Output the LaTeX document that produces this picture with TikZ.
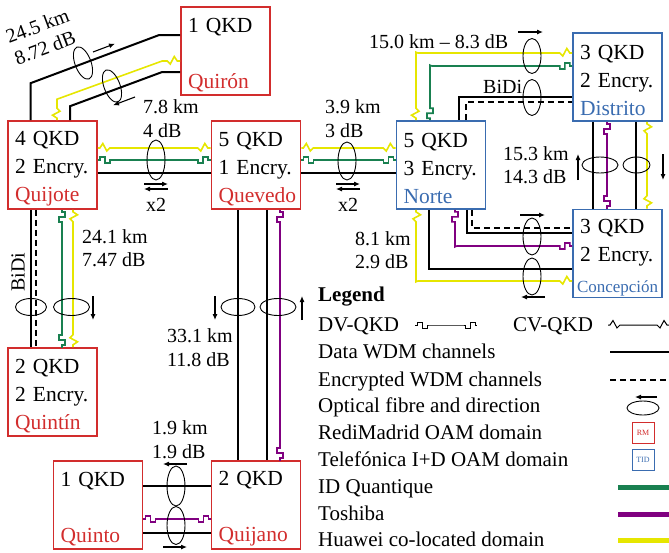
\documentclass[tikz,border=0pt]{standalone}
\usepackage{fontspec}
\setmainfont{Liberation Serif}
\usepackage{xcolor}
\usepackage{tikz}
\usetikzlibrary{calc}
\usetikzlibrary{arrows.meta}
\usetikzlibrary{decorations}

\definecolor{rmred}{RGB}{210,45,45}
\definecolor{tidblue}{RGB}{58,108,176}
\definecolor{idqgreen}{RGB}{25,128,80}
\definecolor{toshpurple}{RGB}{128,0,128}
\definecolor{hwyellow}{RGB}{230,230,0}

% wiggle (CV) and pulse (DV) at both ends of a link
\pgfdeclaredecoration{cvends}{cvstart}{%
	\state{cvstart}[width=14pt,next state=cvrun]{%
		\pgfpathlineto{\pgfpoint{2pt}{0pt}}%
		\pgfpathlineto{\pgfpoint{5pt}{4.5pt}}%
		\pgfpathlineto{\pgfpoint{9pt}{-3pt}}%
		\pgfpathlineto{\pgfpoint{12pt}{0pt}}%
		\pgfpathlineto{\pgfpoint{14pt}{0pt}}%
	}%
	\state{cvrun}[width=1pt,switch if less than=15pt to cvend]{%
		\pgfpathlineto{\pgfpoint{1pt}{0pt}}%
	}%
	\state{cvend}[width=14pt,next state=final]{%
		\pgfpathlineto{\pgfpoint{2pt}{0pt}}%
		\pgfpathlineto{\pgfpoint{5pt}{-3pt}}%
		\pgfpathlineto{\pgfpoint{9pt}{4.5pt}}%
		\pgfpathlineto{\pgfpoint{12pt}{0pt}}%
		\pgfpathlineto{\pgfpoint{14pt}{0pt}}%
	}%
	\state{final}{%
		\pgfpathlineto{\pgfpointdecoratedpathlast}%
	}%
}
\pgfdeclaredecoration{dvends}{dvstart}{%
	\state{dvstart}[width=14pt,next state=dvrun]{%
		\pgfpathlineto{\pgfpoint{2pt}{0pt}}%
		\pgfpathlineto{\pgfpoint{2pt}{3pt}}%
		\pgfpathlineto{\pgfpoint{7pt}{3pt}}%
		\pgfpathlineto{\pgfpoint{7pt}{-3pt}}%
		\pgfpathlineto{\pgfpoint{12pt}{-3pt}}%
		\pgfpathlineto{\pgfpoint{12pt}{0pt}}%
		\pgfpathlineto{\pgfpoint{14pt}{0pt}}%
	}%
	\state{dvrun}[width=1pt,switch if less than=15pt to dvend]{%
		\pgfpathlineto{\pgfpoint{1pt}{0pt}}%
	}%
	\state{dvend}[width=14pt,next state=final]{%
		\pgfpathlineto{\pgfpoint{2pt}{0pt}}%
		\pgfpathlineto{\pgfpoint{2pt}{-3pt}}%
		\pgfpathlineto{\pgfpoint{7pt}{-3pt}}%
		\pgfpathlineto{\pgfpoint{7pt}{3pt}}%
		\pgfpathlineto{\pgfpoint{12pt}{3pt}}%
		\pgfpathlineto{\pgfpoint{12pt}{0pt}}%
		\pgfpathlineto{\pgfpoint{14pt}{0pt}}%
	}%
	\state{final}{%
		\pgfpathlineto{\pgfpointdecoratedpathlast}%
	}%
}

\tikzset{
	qkdbox/.style={draw,line width=1.6pt,minimum width=89pt,minimum height=88pt,inner sep=0pt,
		text width=75pt,align=left,font=\fontsize{21.5}{28}\selectfont,
		execute at begin node={\rule{0pt}{22pt}}},
	rmbox/.style={qkdbox,draw=rmred},
	tidbox/.style={qkdbox,draw=tidblue},
	minibox/.style={draw,line width=0.8pt,minimum width=22pt,minimum height=21pt,inner sep=0pt,
		font=\fontsize{8}{9}\selectfont},
	lbl/.style={inner sep=0pt,align=left,font=\fontsize{20}{23.5}\selectfont},
	legtxt/.style={anchor=west,inner sep=0pt,font=\fontsize{21}{25}\selectfont,text height=14pt,text depth=4pt},
	wdm/.style={line width=2pt},
	encwdm/.style={line width=1.4pt,dash pattern=on 6pt off 4pt},
	cvq/.style={draw=hwyellow,line width=1.6pt,decorate,decoration=cvends},
	dvidq/.style={draw=idqgreen,line width=1.6pt,decorate,decoration=dvends},
	dvtosh/.style={draw=toshpurple,line width=1.6pt,decorate,decoration=dvends},
	fibre/.style={draw,line width=0.9pt},
	fibdir/.style={-{Latex[length=6pt,width=5pt]},line width=1.1pt},
}

\begin{document}
\begin{tikzpicture}[x=1pt,y=-1pt]
		\useasboundingbox (0,0) rectangle (669,552);
		% sites
		\node[rmbox] (quiron) at (225.5,51) {1 QKD\\[28pt]\textcolor{rmred}{Quirón}};
		\node[rmbox] (quijote) at (52.5,165) {4 QKD\\2 Encry.\\\textcolor{rmred}{Quijote}};
		\node[rmbox] (quevedo) at (256,165) {5 QKD\\1 Encry.\\\textcolor{rmred}{Quevedo}};
		\node[tidbox] (norte) at (441,165) {5 QKD\\3 Encry.\\\textcolor{tidblue}{Norte}};
		\node[tidbox] (distrito) at (617.5,77) {3 QKD\\2 Encry.\\\textcolor{tidblue}{Distrito}};
		\node[tidbox] (concepcion) at (617.5,253.5) {3 QKD\\2 Encry.\\[3pt]\hspace*{-3pt}\mbox{\textcolor{tidblue}{\fontsize{17}{20}\selectfont Concepción}}};
		\node[rmbox] (quintin) at (52.5,392) {2 QKD\\2 Encry.\\\textcolor{rmred}{Quintín}};
		\node[rmbox] (quinto) at (98,505) {1 QKD\\[28pt]\textcolor{rmred}{Quinto}};
		\node[rmbox] (quijano) at (256,505) {2 QKD\\[28pt]\textcolor{rmred}{Quijano}};

		% Quijote - Quiron
		\draw[wdm] ($(quijote.north)+(-22,0)$) -- ++(0,-37) -- ($(quiron.west)+(-21,-16)$) -- ($(quiron.west)+(0,-16)$);
		\draw[cvq] ($(quijote.north)+(4.5,0)$) -- ++(0,-21) -- ($(quiron.west)+(-18,10)$) -- ($(quiron.west)+(0,10)$);
		\draw[wdm] ($(quijote.north)+(17.5,0)$) -- ++(0,-14) -- ($(quiron.west)+(-18,21)$) -- ($(quiron.west)+(0,21)$);
		\draw[fibre,rotate around={20.6:(83,63)}] (83,63) ellipse (8 and 17);
		\draw[fibre,rotate around={20.6:(112,86)}] (112,86) ellipse (8 and 17);
		\draw[fibdir] (93,52) -- (115,43.7);
		\draw[fibdir] (135,97) -- (113,105.3);
		\node[lbl,rotate=20.6] (lquironkm) at (37.5,26) {24.5 km};
		\node[lbl,rotate=20.6] (lquirondb) at (45,48) {8.72 dB};

		% Quijote - Quevedo
		\draw[cvq] ($(quijote.east)+(0,-17)$) -- ($(quevedo.west)+(0,-17)$);
		\draw[dvidq] ($(quijote.east)+(0,-5)$) -- ($(quevedo.west)+(0,-5)$);
		\draw[wdm] ($(quijote.east)+(0,8)$) -- ($(quevedo.west)+(0,8)$);
		\draw[fibre] (156,160) ellipse (9 and 20);
		\draw[fibdir] (144,184) -- (168,184);
		\draw[fibdir] (168,189) -- (144,189);
		\node[lbl,anchor=west] (lquevedo) at (143,118.5) {7.8 km\\4 dB};
		\node[lbl] (xquevedo) at (156,205) {x2};

		% Quevedo - Norte
		\draw[cvq] ($(quevedo.east)+(0,-17)$) -- ($(norte.west)+(0,-17)$);
		\draw[dvidq] ($(quevedo.east)+(0,-5)$) -- ($(norte.west)+(0,-5)$);
		\draw[wdm] ($(quevedo.east)+(0,8)$) -- ($(norte.west)+(0,8)$);
		\draw[fibre] (347,161) ellipse (9 and 19);
		\draw[fibdir] (336,184) -- (360,184);
		\draw[fibdir] (360,189) -- (336,189);
		\node[lbl,anchor=west] (lnorte) at (325,118.5) {3.9 km\\3 dB};
		\node[lbl] (xnorte) at (348,205) {x2};

		% Quijote - Quintin
		\draw[wdm] ($(quijote.south)+(-22,0)$) -- ($(quintin.north)+(-22,0)$);
		\draw[encwdm] ($(quijote.south)+(-16.5,0)$) -- ($(quintin.north)+(-16.5,0)$);
		\draw[dvidq] ($(quijote.south)+(9.5,0)$) -- ($(quintin.north)+(9.5,0)$);
		\draw[cvq] ($(quijote.south)+(20.5,0)$) -- ($(quintin.north)+(20.5,0)$);
		\draw[fibre] (31,307) ellipse (15.5 and 8.5);
		\draw[fibre] (71.5,307) ellipse (18 and 8.5);
		\draw[fibdir] (93,296) -- (93,320);
		\node[lbl,rotate=90] (bidiquintin) at (18,272) {BiDi};
		\node[lbl,anchor=west] (lquintin) at (82,248) {24.1 km\\7.47 dB};

		% Quevedo - Quijano
		\draw[wdm] ($(quevedo.south)+(-18,0)$) -- ($(quijano.north)+(-18,0)$);
		\draw[wdm] ($(quevedo.south)+(11,0)$) -- ($(quijano.north)+(11,0)$);
		\draw[dvtosh] ($(quevedo.south)+(24,0)$) -- ($(quijano.north)+(24,0)$);
		\draw[fibre] (238,307) ellipse (17 and 8.5);
		\draw[fibre] (278,307) ellipse (18 and 8.5);
		\draw[fibdir] (215,296) -- (215,320);
		\draw[fibdir] (302,320) -- (302,296);
		\node[lbl,anchor=west] (lquijano) at (167,347.5) {33.1 km\\11.8 dB};

		% Quinto - Quijano
		\draw[wdm] ($(quinto.east)+(0,-19)$) -- ($(quijano.west)+(0,-19)$);
		\draw[dvtosh] ($(quinto.east)+(0,14)$) -- ($(quijano.west)+(0,14)$);
		\draw[wdm] ($(quinto.east)+(0,28)$) -- ($(quijano.west)+(0,28)$);
		\draw[fibre] (176,486) ellipse (9 and 20);
		\draw[fibre] (176,525.5) ellipse (9 and 19);
		\draw[fibdir] (187,464) -- (163,464);
		\draw[fibdir] (163,547) -- (187,547);
		\node[lbl,anchor=west] (lquinto) at (152,439.5) {1.9 km\\1.9 dB};

		% Norte - Distrito
		\draw[cvq] ($(norte.north)+(-25,0)$) |- ($(distrito.west)+(0,-24)$);
		\draw[dvidq] ($(norte.north)+(-11,0)$) |- ($(distrito.west)+(0,-11)$);
		\draw[wdm] ($(norte.north)+(18,0)$) |- ($(distrito.west)+(0,20)$);
		\draw[encwdm] ($(norte.north)+(25,0)$) |- ($(distrito.west)+(0,25)$);
		\draw[fibre] (532,56) ellipse (9 and 17.5);
		\draw[fibre] (532,97.5) ellipse (9 and 18);
		\draw[fibdir] (518,32) -- (543,32);
		\node[lbl,anchor=west] (ldistrito) at (369,42) {15.0 km – 8.3 dB};
		\node[lbl,anchor=west] (bididistrito) at (483,87) {BiDi};

		% Distrito - Concepcion
		\draw[wdm] ($(distrito.south)+(-24.5,0)$) -- ($(concepcion.north)+(-24.5,0)$);
		\draw[dvtosh] ($(distrito.south)+(-10.5,0)$) -- ($(concepcion.north)+(-10.5,0)$);
		\draw[wdm] ($(distrito.south)+(18.5,0)$) -- ($(concepcion.north)+(18.5,0)$);
		\draw[cvq] ($(distrito.south)+(29.5,0)$) -- ($(concepcion.north)+(29.5,0)$);
		\draw[fibre] (600,165) ellipse (18 and 8);
		\draw[fibre] (636.5,165) ellipse (13.5 and 8);
		\draw[fibdir] (578,180) -- (578,154);
		\draw[fibdir] (663,154) -- (663,180);
		\node[lbl,anchor=west] (lconcepcion) at (503,165) {15.3 km\\14.3 dB};

		% Norte - Concepcion
		\draw[encwdm] ($(norte.south)+(31,0)$) |- ($(concepcion.west)+(0,-25.5)$);
		\draw[wdm] ($(norte.south)+(26,0)$) |- ($(concepcion.west)+(0,-20.5)$);
		\draw[dvtosh] ($(norte.south)+(14,0)$) |- ($(concepcion.west)+(0,-7.5)$);
		\draw[wdm] ($(norte.south)+(-12,0)$) |- ($(concepcion.west)+(0,15.5)$);
		\draw[cvq] ($(norte.south)+(-25,0)$) |- ($(concepcion.west)+(0,27.5)$);
		\draw[fibre] (532,236.5) ellipse (9 and 18.5);
		\draw[fibre] (532,276.5) ellipse (9 and 18.5);
		\draw[fibdir] (520,215) -- (545,215);
		\draw[fibdir] (545,297) -- (521,297);
		\node[lbl,anchor=west] (lnc) at (355,250) {8.1 km\\2.9 dB};

		% legend
		\node[legtxt] (legtitle) at (318,296) {\bfseries Legend};
		\node[legtxt] (ldv) at (318,326) {DV-QKD};
		\draw[decorate,decoration=dvends,line width=1pt] (415,325) -- (477,325);
		\node[legtxt] (lcv) at (513,326) {CV-QKD};
		\draw[decorate,decoration=cvends,line width=1pt] (608,325) -- (669,325);
		\node[legtxt] (ldata) at (318,353) {Data WDM channels};
		\draw[wdm] (610,352) -- (669,352);
		\node[legtxt] (lenc) at (318,381) {Encrypted WDM channels};
		\draw[encwdm] (610,380) -- (669,380);
		\node[legtxt] (lfib) at (318,407) {Optical fibre and direction};
		\draw[fibre] (643,408) ellipse (16 and 7);
		\draw[fibdir] (657,397) -- (635,397);
		\node[legtxt] (lrm) at (318,434) {RediMadrid OAM domain};
		\node[minibox,draw=rmred,text=rmred] (rm) at (643,432.5) {RM};
		\node[legtxt] (ltid) at (318,461) {Telefónica I+D OAM domain};
		\node[minibox,draw=tidblue,text=tidblue] (tid) at (643,460) {TID};
		\node[legtxt] (lidq) at (318,488) {ID Quantique};
		\draw[line width=5pt,idqgreen] (618,487) -- (669,487);
		\node[legtxt] (ltosh) at (318,515) {Toshiba};
		\draw[line width=5pt,toshpurple] (618,514) -- (669,514);
		\node[legtxt] (lhw) at (318,541) {Huawei co-located domain};
		\draw[line width=5pt,hwyellow] (618,540) -- (669,540);
	\end{tikzpicture}
\end{document}
